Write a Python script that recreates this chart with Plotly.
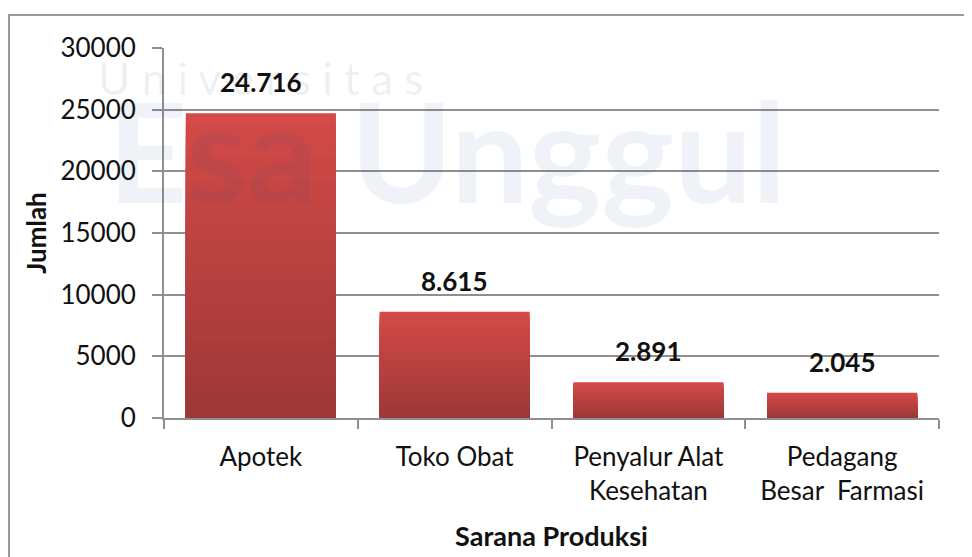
import plotly.graph_objects as go

categories = ["Apotek", "Toko Obat", "Penyalur Alat<br>Kesehatan", "Pedagang<br>Besar  Farmasi"]
values = [24716, 8615, 2891, 2045]
value_labels = ["24.716", "8.615", "2.891", "2.045"]
y_ticks = [0, 5000, 10000, 15000, 20000, 25000, 30000]

FONT = "Lato"
GRID = "#8f8f8f"

fig = go.Figure()

# vertical gradient per bar: overlay progressively shorter, darker bars
N = 28
top = (211, 74, 72)
bot = (157, 56, 55)
for k in range(N):
    f = k / (N - 1)
    c = tuple(round(top[i] + (bot[i] - top[i]) * f) for i in range(3))
    frac = 1 - k / N
    fig.add_trace(go.Bar(
        x=categories, y=[v * frac for v in values],
        marker=dict(color="rgb(%d,%d,%d)" % c, line=dict(width=0)),
        hoverinfo="skip", showlegend=False,
    ))

for cat, v, lab in zip(categories, values, value_labels):
    fig.add_annotation(x=cat, y=v, text="<b>%s</b>" % lab, showarrow=False,
                       yanchor="middle", yshift=31,
                       font=dict(family=FONT, size=26, color="#111111"))

# watermark
fig.add_annotation(xref="paper", yref="paper", x=0.365, y=0.725, xanchor="center", yanchor="middle",
                   text="<b>Esa Unggul</b>", showarrow=False,
                   font=dict(family=FONT, size=138, color="rgba(40,75,130,0.075)"))
fig.add_annotation(xref="paper", yref="paper", x=0.125, y=0.92, xanchor="center", yanchor="middle",
                   text="U n i v e r s i t a s", showarrow=False,
                   font=dict(family=FONT, size=44, color="rgba(0,0,0,0.07)"))

# outer frame
fig.add_shape(type="rect", xref="paper", yref="paper", x0=-0.2, x1=1.2, y0=-0.6, y1=1.089,
              line=dict(color="#9a9a9a", width=2), fillcolor="rgba(0,0,0,0)", layer="below")

fig.update_layout(
    width=972, height=557,
    margin=dict(l=156, r=41, t=40, b=147),
    paper_bgcolor="white", plot_bgcolor="white",
    barmode="overlay", bargap=0.225,
    font=dict(family=FONT, color="#111111"),
    showlegend=False,
)
fig.update_xaxes(
    type="category", tickson="boundaries", ticks="outside", ticklen=9, tickwidth=2,
    tickcolor=GRID, showline=True, linecolor=GRID, linewidth=2, showgrid=False,
    tickfont=dict(family=FONT, size=26, color="#111111"), ticklabelstandoff=15,
    automargin=False,
    title=dict(text="<b>Sarana Produksi</b>", font=dict(family=FONT, size=27, color="#111111"), standoff=22),
)
fig.update_yaxes(
    range=[0, 30000], tickvals=y_ticks, ticktext=[str(t) for t in y_ticks],
    ticks="outside", ticklen=10, tickwidth=2, tickcolor=GRID,
    showline=True, linecolor=GRID, linewidth=2, showgrid=True, gridcolor=GRID, gridwidth=2,
    zeroline=False, tickfont=dict(family=FONT, size=26, color="#111111"), ticklabelstandoff=11,
    automargin=False,
    title=dict(text="<b>Jumlah</b>", font=dict(family=FONT, size=26, color="#111111"), standoff=6),
)

fig.write_html("out.html")
